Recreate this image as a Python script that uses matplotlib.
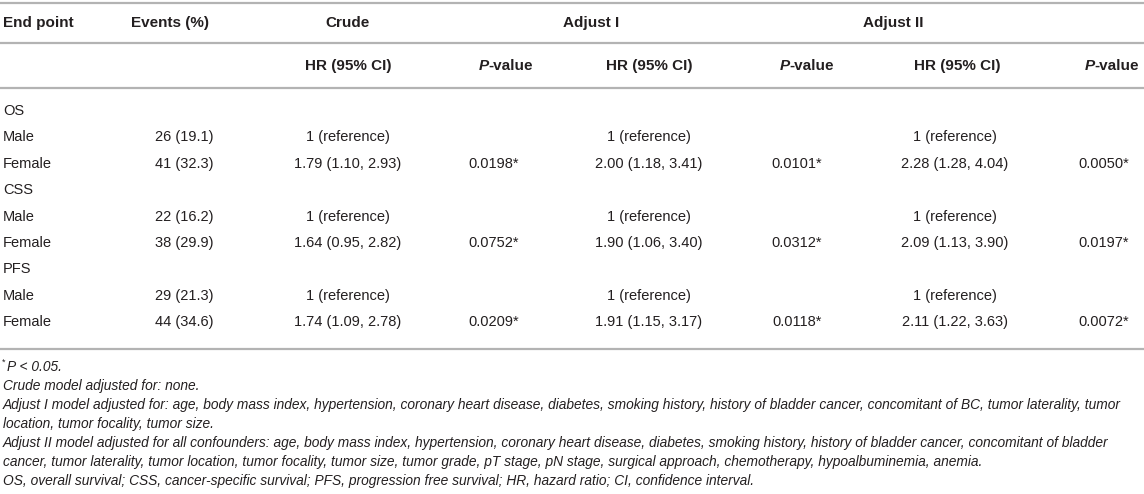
import matplotlib
matplotlib.use("Agg")
import matplotlib.pyplot as plt
from matplotlib.lines import Line2D

W, H = 1144, 494
DPI = 100
FONT = "Liberation Sans"
TXT = "#231f20"
RULE = "#b3b3b3"

# ---- data ----
endpoints = ["OS", "CSS", "PFS"]
groups = ["Male", "Female"]
events = [["26 (19.1)", "41 (32.3)"], ["22 (16.2)", "38 (29.9)"], ["29 (21.3)", "44 (34.6)"]]
hr_crude = ["1.79 (1.10, 2.93)", "1.64 (0.95, 2.82)", "1.74 (1.09, 2.78)"]
p_crude = ["0.0198*", "0.0752*", "0.0209*"]
hr_adj1 = ["2.00 (1.18, 3.41)", "1.90 (1.06, 3.40)", "1.91 (1.15, 3.17)"]
p_adj1 = ["0.0101*", "0.0312*", "0.0118*"]
hr_adj2 = ["2.28 (1.28, 4.04)", "2.09 (1.13, 3.90)", "2.11 (1.22, 3.63)"]
p_adj2 = ["0.0050*", "0.0197*", "0.0072*"]
reference = "1 (reference)"
header1 = ["End point", "Events (%)", "Crude", "Adjust I", "Adjust II"]
header2 = ["HR (95% CI)", "P-value"]
footnotes = [
    "Crude model adjusted for: none.",
    "Adjust I model adjusted for: age, body mass index, hypertension, coronary heart disease, diabetes, smoking history, history of bladder cancer, concomitant of BC, tumor laterality, tumor",
    "location, tumor focality, tumor size.",
    "Adjust II model adjusted for all confounders: age, body mass index, hypertension, coronary heart disease, diabetes, smoking history, history of bladder cancer, concomitant of bladder",
    "cancer, tumor laterality, tumor location, tumor focality, tumor size, tumor grade, pT stage, pN stage, surgical approach, chemotherapy, hypoalbuminemia, anemia.",
    "OS, overall survival; CSS, cancer-specific survival; PFS, progression free survival; HR, hazard ratio; CI, confidence interval.",
]

fig = plt.figure(figsize=(W / DPI, H / DPI), dpi=DPI)
fig.patch.set_facecolor("white")
FS = 10.5    # body
HFS = 11.0   # header
FFS = 9.9    # footnotes


def fx(x):
    return x / W


def fy(y):
    return 1 - y / H


def txt(x, y, s, ha="left", weight="normal", style="normal", size=FS):
    return fig.text(fx(x), fy(y), s, ha=ha, va="center", fontsize=size,
                    family=FONT, weight=weight, style=style, color=TXT)


def rule(y):
    fig.add_artist(Line2D([0, 1], [fy(y), fy(y)], color=RULE, lw=1.6,
                          transform=fig.transFigure))


renderer = fig.canvas.get_renderer()


def pieces_center(xc, y, pieces, size=FS):
    arts = []
    widths = []
    for s, w_, st in pieces:
        t = txt(0, y, s, weight=w_, style=st, size=size)
        bb = t.get_window_extent(renderer)
        arts.append(t)
        widths.append(bb.width)
    total = sum(widths)
    x = xc - total / 2
    for t, w_ in zip(arts, widths):
        t.set_x(fx(x))
        x += w_


# rules
for yr in (3, 43, 88, 349):
    rule(yr)

# header row 1
txt(3, 23, header1[0], weight="bold", size=HFS)
txt(131, 23, header1[1], weight="bold", size=HFS)
for xc, s in zip((347, 591, 893), header1[2:]):
    txt(xc, 23, s, ha="center", weight="bold", size=HFS)

# header row 2
for xh, xp in ((348, 506), (649, 807), (957, 1112)):
    txt(xh, 66, header2[0], ha="center", weight="bold", size=HFS)
    pieces_center(xp, 66, [("P", "bold", "italic"), ("-value", "bold", "normal")],
                  size=HFS)

# body
col_ev = 184
cols_hr = (348, 649, 955)
cols_p = (494, 797, 1104)
row_y = [111, 137, 164, 190, 217, 243, 269, 296, 322]
hr_cols = [hr_crude, hr_adj1, hr_adj2]
p_cols = [p_crude, p_adj1, p_adj2]
r = 0
for i, ep in enumerate(endpoints):
    txt(3, row_y[r], ep)
    r += 1
    for j, g in enumerate(groups):
        y = row_y[r]
        txt(3, y, g)
        txt(col_ev, y, events[i][j], ha="center")
        for k in range(3):
            if j == 0:
                txt(cols_hr[k], y, reference, ha="center")
            else:
                txt(cols_hr[k], y, hr_cols[k][i], ha="center")
                txt(cols_p[k], y, p_cols[k][i], ha="center")
        r += 1

# footnotes
fig.text(fx(2), fy(362), "*", ha="left", va="center", fontsize=6.5,
         family=FONT, color=TXT)
txt(7, 367, "P < 0.05.", style="italic", size=FFS)
for n, line in enumerate(footnotes):
    txt(3, 386 + 19 * n, line, style="italic", size=FFS)

fig.savefig("out.png", dpi=DPI, facecolor="white")
